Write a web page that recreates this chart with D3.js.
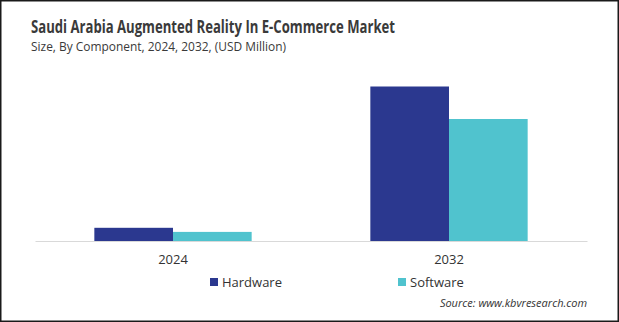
<!DOCTYPE html>
<html>
<head>
<meta charset="utf-8">
<script src="https://cdn.jsdelivr.net/npm/d3@7"></script>
<style>
  body { margin: 0; background: #fff; }
  text { font-family: "Open Sans", sans-serif; }
</style>
</head>
<body>
<svg width="619" height="322"></svg>
<script>
const years = ["2024", "2032"]
const seriesNames = ["Hardware", "Software"]
const hardware = [13.2, 154.5]
const software = [9.1, 122.0]
const colors = ["#2b388f", "#50c3ce"]

const svg = d3.select("svg")

// frame
svg.append("rect").attr("x", 0.75).attr("y", 0.75).attr("width", 617.5).attr("height", 320.5)
  .attr("fill", "#fff").attr("stroke", "#1a1a1a").attr("stroke-width", 1.5)

// title
svg.append("text").attr("x", 31).attr("y", 33)
  .attr("font-size", 17).attr("font-weight", 700).attr("fill", "#3a3a3a")
  .attr("textLength", 364).attr("lengthAdjust", "spacingAndGlyphs")
  .text("Saudi Arabia Augmented Reality  In E-Commerce Market")

svg.append("text").attr("x", 31).attr("y", 51)
  .attr("font-size", 12.5).attr("fill", "#3a3a3a")
  .attr("textLength", 255).attr("lengthAdjust", "spacingAndGlyphs")
  .text("Size, By Component,  2024, 2032, (USD Million)")

const x = d3.scaleBand().domain(years).range([35, 587])
const groupW = x.bandwidth() * 0.57
const inner = d3.scaleBand().domain(seriesNames).range([0, groupW])

const y = d3.scaleLinear().domain([0, 161]).range([241, 80])

const data = years.map((yr, i) => ({ year: yr, values: [hardware[i], software[i]] }))

const groups = svg.append("g").selectAll("g").data(data).join("g")
  .attr("transform", d => `translate(${x(d.year) + (x.bandwidth() - groupW) / 2},0)`)

groups.selectAll("rect").data(d => d.values).join("rect")
  .attr("x", (d, i) => inner(seriesNames[i]))
  .attr("width", inner.bandwidth())
  .attr("y", d => y(d))
  .attr("height", d => y(0) - y(d))
  .attr("fill", (d, i) => colors[i])

// axis
const xAxis = svg.append("g").attr("transform", "translate(0,241)")
  .call(d3.axisBottom(x).tickSize(0).tickPadding(14))
xAxis.select(".domain").attr("stroke", "#d9d9d9")
xAxis.selectAll("text").attr("font-size", 13).attr("fill", "#333")
  .attr("font-family", "Open Sans, sans-serif")

// legend
const legendX = [210, 398]
const legend = svg.append("g").selectAll("g").data(seriesNames).join("g")
  .attr("transform", (d, i) => `translate(${legendX[i]},282)`)
legend.append("rect").attr("x", 0).attr("y", -4).attr("width", 8).attr("height", 8)
  .attr("fill", (d, i) => colors[i])
legend.append("text").attr("x", 12).attr("y", 0).attr("dy", "0.35em")
  .attr("font-size", 13).attr("fill", "#333").text(d => d)

svg.append("text").attr("x", 587).attr("y", 307).attr("text-anchor", "end")
  .attr("font-size", 11).attr("font-style", "italic").attr("fill", "#333")
  .text("Source: www.kbvresearch.com")
</script>
</body>
</html>
